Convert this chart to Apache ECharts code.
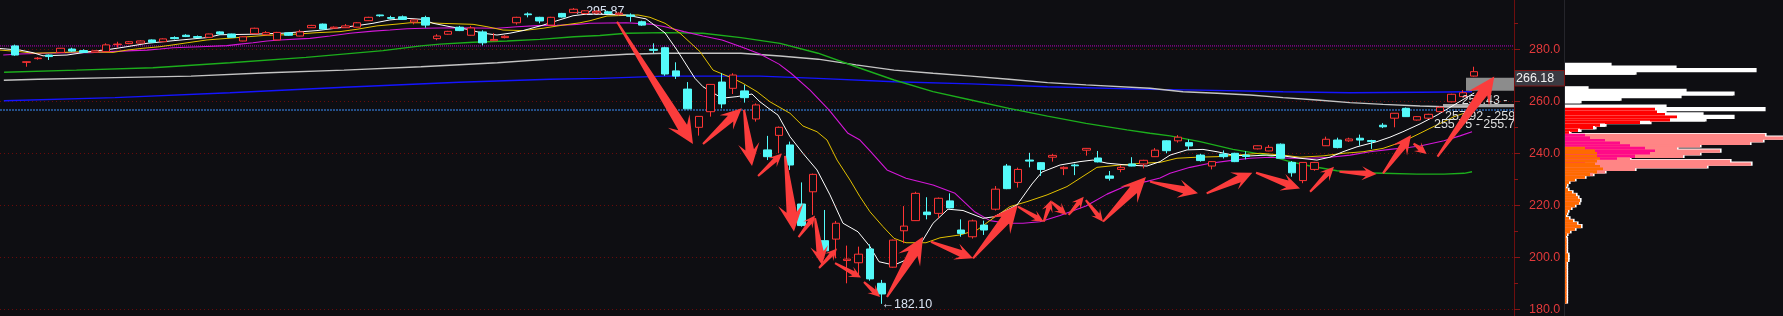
<!DOCTYPE html>
<html><head><meta charset="utf-8">
<script src="https://cdn.jsdelivr.net/npm/echarts/dist/echarts.min.js"></script>
<style>html,body{margin:0;padding:0;background:#0e0e12;}#c{width:1783px;height:316px;}</style>
</head><body><div id="c"></div><script>
// ---------- DATA ----------
const opens = [281.3,275.0,276.4,277.8,278.8,280.1,279.5,278.9,279.1,281.8,
282.2,282.4,283.6,282.9,284.5,285.4,284.9,284.6,286.7,285.9,
283.2,286.0,285.6,283.6,286.3,285.1,288.3,289.7,288.1,288.3,
288.5,291.0,293.2,292.2,292.5,290.5,292.2,284.1,285.8,288.5,
285.4,286.7,283.3,284.5,290.2,293.6,292.3,289.3,293.8,294.1,
293.8,294.0,294.4,293.5,293.2,290.6,280.0,280.6,271.7,264.7,
250.0,256.0,267.4,265.0,264.0,253.2,241.3,246.9,243.2,220.5,
225.2,206.4,207.0,198.8,197.9,203.2,190.0,196.2,210.2,214.1,
217.4,216.9,221.7,210.5,207.9,212.4,218.5,235.1,228.8,237.4,
236.4,238.5,234.1,235.5,241.2,238.2,231.3,233.8,235.9,235.9,
238.7,244.8,244.8,244.1,239.3,235.1,239.7,240.0,239.3,241.7,
240.9,243.5,236.5,229.5,233.8,242.9,245.1,244.8,245.8,244.9,
250.8,253.5,257.3,252.8,253.5,256.0,259.8,261.8,269.7];
const closes = [277.8,275.2,276.6,277.2,280.4,279.3,278.8,279.4,281.7,282.0,
282.9,283.2,282.7,284.0,284.1,284.9,284.5,285.9,285.9,284.6,
284.8,288.1,286.4,286.5,285.4,286.7,289.2,287.8,288.5,289.0,
290.2,292.3,292.9,291.9,291.5,291.3,289.3,285.1,286.9,287.2,
288.2,282.5,283.8,285.0,292.3,293.3,290.9,292.3,292.4,295.4,
294.8,294.6,293.8,293.9,292.7,289.3,279.6,270.5,269.7,257.1,
254.2,266.5,259.0,270.1,261.4,258.6,238.7,250.0,235.5,212.2,
231.9,202.5,213.1,199.3,201.2,191.7,185.9,206.6,212.0,224.6,
216.4,222.7,219.0,209.2,214.0,210.5,226.2,226.4,233.8,237.0,
233.8,239.2,234.6,235.2,241.9,236.7,230.4,234.6,235.1,237.3,
241.2,241.0,246.2,242.8,237.2,236.8,238.7,236.8,238.8,242.9,
242.3,238.1,232.5,236.5,236.5,245.4,242.2,245.5,245.1,244.5,
250.2,255.4,254.1,254.1,255.0,257.7,262.7,263.3,271.4];
const lows = [277.5,273.3,276.0,275.9,278.6,279.0,278.6,278.7,279.0,280.6,
282.0,282.3,282.6,282.8,283.8,284.7,284.3,284.5,285.5,284.5,
283.1,285.9,285.4,283.5,285.2,285.0,288.2,287.6,287.8,288.2,
288.4,290.9,292.5,291.5,291.3,289.6,288.3,283.5,285.6,287.0,
285.3,281.5,283.2,284.2,289.5,292.3,290.0,289.2,292.2,294.0,
293.6,293.6,293.5,293.0,290.6,289.0,278.5,269.8,268.6,257.0,
246.8,254.1,257.3,262.8,259.5,252.2,237.4,240.0,233.6,211.8,
216.3,202.0,199.6,190.0,192.5,191.0,182.1,196.0,205.4,214.0,
214.6,215.0,218.8,207.9,207.2,208.6,218.0,226.2,226.8,234.6,
231.3,236.8,231.6,231.6,239.1,236.5,229.5,232.7,235.0,234.2,
238.6,240.0,244.1,241.3,236.8,233.8,238.0,236.6,237.7,241.5,
240.8,238.0,231.0,228.5,233.3,242.8,241.9,244.4,242.9,241.7,
249.7,250.0,254.0,252.6,253.3,255.8,259.6,261.6,269.5];
const highs = [281.8,275.3,277.0,278.0,280.5,280.6,280.0,279.6,282.3,282.9,
283.2,283.4,283.8,284.2,285.0,285.8,285.3,286.0,286.9,286.0,
285.0,288.3,287.0,286.7,286.6,287.5,289.4,289.9,288.8,289.7,
290.4,292.5,293.3,292.9,293.0,291.5,292.9,285.8,287.1,289.0,
289.0,287.3,286.2,285.4,292.5,294.2,292.5,292.5,294.0,295.87,
295.0,295.0,294.8,294.2,293.8,291.0,282.3,281.0,275.0,267.4,
254.3,266.6,270.8,270.8,266.3,259.2,246.7,250.3,244.5,228.8,
232.2,218.2,214.0,204.5,204.1,205.0,191.3,206.8,219.7,225.2,
223.1,223.0,224.6,214.6,214.5,214.1,227.4,235.9,234.5,240.2,
236.6,239.7,235.0,236.0,242.0,240.9,233.2,235.4,238.5,237.5,
242.0,245.0,247.0,245.3,239.8,237.0,241.1,240.2,240.8,243.0,
243.2,243.8,237.0,236.6,236.7,246.4,246.0,246.0,247.2,245.2,
251.6,255.5,257.6,254.3,255.2,258.0,262.9,264.3,273.3];

// moving-average lines: [bar position, price]
const ma5 = [[-1.32,280.3],[0.44,279.7],[1.58,278.7],[2.46,277.5],[4.56,277.8],[6.58,279.1],[8.33,280.0],[9.82,281.0],[11.58,282.3],[13.86,283.3],[16.84,284.5],[17.98,285.6],[20.88,285.8],[23.51,286.2],[26.49,287.2],[28.51,288.3],[30.0,289.1],[31.4,290.0],[32.89,291.3],[34.39,291.9],[35.79,291.5],[36.67,290.0],[38.16,288.7],[39.65,287.7],[41.05,286.2],[42.28,285.5],[43.42,286.2],[44.56,287.2],[46.32,289.3],[47.54,291.0],[48.95,292.9],[50.26,293.6],[53.6,293.2],[55.35,291.7],[57.02,286.3],[58.07,279.7],[59.65,268.8],[60.35,265.6],[62.02,261.2],[63.33,261.8],[64.65,262.8],[65.35,259.8],[66.23,256.9],[66.93,254.7],[67.98,246.4],[69.12,240.0],[70.35,233.6],[71.49,224.0],[72.63,213.1],[73.95,209.8],[75.0,204.1],[75.79,198.3],[77.11,197.0],[78.16,199.0],[79.47,205.4],[80.53,213.1],[81.84,218.5],[83.16,218.0],[84.91,215.0],[85.88,215.6],[87.89,220.1],[89.21,228.2],[90.09,232.8],[91.67,235.5],[93.42,236.8],[94.56,237.4],[95.79,236.2],[97.54,235.5],[99.3,235.1],[100.44,236.8],[101.32,239.3],[102.81,241.3],[104.21,241.5],[105.44,240.6],[106.84,239.3],[108.33,239.0],[109.82,239.3],[111.23,239.0],[112.72,238.1],[114.21,237.4],[115.35,238.5],[116.49,240.6],[117.72,242.5],[119.47,244.5],[120.61,246.2],[121.75,248.3],[123.25,251.3],[124.74,254.7],[126.23,258.6],[127.54,262.0],[128.0,263.2]];
const ma10 = [[-1.32,279.7],[0.44,279.1],[1.58,278.5],[3.68,278.7],[5.96,279.1],[8.6,278.8],[9.82,279.7],[11.23,280.4],[12.72,281.0],[13.86,281.7],[15.09,282.5],[16.84,283.6],[18.6,284.2],[20.35,284.8],[22.11,285.4],[23.86,285.6],[26.49,286.4],[28.51,286.8],[30.0,287.7],[31.75,289.0],[33.51,289.7],[34.65,290.2],[36.4,290.2],[37.28,290.0],[40.18,289.6],[41.4,288.7],[42.81,287.4],[44.56,287.2],[46.32,288.1],[48.07,289.3],[49.56,290.2],[50.44,291.0],[51.93,292.8],[54.65,293.2],[55.7,292.3],[57.02,290.0],[58.33,286.2],[60.09,279.1],[61.23,272.0],[62.98,268.8],[63.86,266.9],[65.09,263.7],[66.23,259.8],[67.98,255.4],[69.12,250.5],[70.35,248.3],[71.23,245.1],[72.11,237.4],[73.25,229.7],[74.12,223.3],[75.0,217.5],[76.14,211.8],[77.11,207.3],[78.16,205.6],[79.91,205.6],[81.14,207.5],[82.89,208.6],[84.39,210.5],[85.79,215.0],[87.28,219.5],[88.77,221.4],[90.53,224.0],[92.28,227.2],[93.42,230.4],[94.91,234.6],[96.93,235.5],[98.95,236.2],[100.44,236.5],[101.93,238.1],[103.68,238.5],[105.44,238.7],[107.19,239.3],[109.21,240.0],[111.23,239.3],[112.72,238.5],[114.74,239.0],[116.49,240.0],[118.25,240.6],[120.0,241.9],[121.75,244.5],[123.25,247.7],[124.12,249.6],[125.35,252.2],[126.23,254.1],[128.0,256.7]];
const ma20 = [[-1.03,277.8],[0.44,278.2],[2.46,278.5],[4.56,278.7],[6.58,278.7],[8.33,279.1],[10.35,279.5],[11.58,279.7],[12.72,280.1],[13.86,280.6],[16.23,281.0],[18.6,281.4],[19.74,282.0],[20.88,282.5],[22.11,283.2],[23.25,283.6],[25.0,284.0],[25.88,284.2],[27.63,285.1],[29.39,286.2],[31.4,287.0],[32.89,287.4],[34.39,287.9],[35.79,288.1],[38.77,288.3],[40.53,288.2],[42.28,288.1],[44.04,288.7],[45.79,289.1],[47.54,289.2],[49.3,289.6],[50.44,290.0],[53.6,290.2],[55.7,289.7],[57.02,288.7],[58.68,286.8],[60.35,285.1],[62.02,283.6],[63.68,281.0],[65.35,278.2],[67.02,274.3],[68.07,270.8],[69.74,264.3],[71.4,256.7],[73.07,247.7],[74.12,245.1],[75.0,240.9],[76.49,233.6],[78.16,230.4],[80.53,227.8],[82.46,224.6],[84.21,217.4],[85.53,214.1],[87.02,213.1],[88.42,213.1],[89.91,213.7],[91.67,216.1],[93.95,219.7],[95.79,224.3],[97.54,227.6],[99.3,229.2],[100.44,230.5],[101.32,232.3],[103.07,234.6],[104.82,236.2],[106.58,237.2],[108.33,238.1],[110.09,238.5],[111.84,238.1],[113.6,238.1],[115.35,238.5],[117.11,239.3],[118.86,240.6],[120.61,241.5],[122.37,242.3],[123.25,242.8],[125.35,244.8],[126.75,246.7],[127.81,248.3]];
const ma60 = [[-0.96,271.2],[5.39,272.0],[12.1,272.9],[18.86,274.8],[25.53,276.9],[32.28,279.5],[35.61,281.3],[37.28,282.0],[40.18,282.7],[43.16,283.2],[46.05,283.8],[49.04,284.8],[51.3,285.3],[53.64,286.2],[57.02,286.4],[60.35,286.2],[63.68,284.5],[67.11,282.3],[70.44,278.5],[73.77,273.3],[77.11,268.2],[80.53,263.7],[83.86,260.5],[87.19,257.3],[90.57,254.3],[93.95,251.5],[97.54,249.0],[99.56,247.7],[101.32,246.7],[103.95,244.5],[106.84,241.5],[109.82,239.3],[111.84,236.8],[113.6,235.1],[115.96,233.3],[118.25,232.5],[120.0,232.3],[122.98,232.0],[125.35,232.0],[127.11,232.3],[127.81,232.9]];
const ma120 = [[-0.98,268.1],[2.02,268.5],[8.77,269.1],[15.44,269.7],[22.19,271.0],[28.86,272.0],[35.61,273.3],[42.32,274.8],[49.04,276.9],[53.64,278.1],[57.02,278.5],[63.68,278.5],[67.11,277.4],[70.44,276.2],[73.77,274.0],[77.11,272.0],[80.53,270.8],[83.86,269.7],[87.19,268.5],[90.57,267.2],[93.95,266.3],[99.56,265.0],[102.46,263.7],[105.44,263.1],[108.33,262.4],[111.23,261.4],[114.21,260.5],[117.11,259.5],[120.0,258.8],[123.25,258.2],[125.35,257.9],[127.81,257.8]];
const ma250 = [[-0.98,260.2],[8.77,261.4],[18.86,263.3],[28.86,265.4],[38.95,267.3],[46.93,268.5],[51.32,268.8],[57.02,269.7],[65.35,269.7],[70.44,268.8],[77.11,267.5],[83.86,266.7],[90.57,265.6],[99.56,264.6],[103.95,264.3],[111.23,263.7],[117.11,263.3],[123.25,263.5],[127.81,263.7]];

const levelPurple = 281.3;
const levelBlue = 256.65;
const yTicks = [180, 200, 220, 240, 260, 280];
const highLabel = '295.87', lowLabel = '182.10', priceTag = '266.18';
const maLabelTexts = ['254.43 -', '257.92 - 259', '255.75 - 255.7'];
const maLabelPos = [[126.9, 260.1], [125.44, 254.1], [124.47, 251.1]];

// annotation arrows [fromBar, fromPrice, toBar, toPrice]
const arrows = [[52.81,290.6,59.47,243.6],[60.35,243.6,63.75,257.3],[63.95,256.7,64.65,235.1],[65.18,231.3,67.28,239.9],[67.54,239.0,68.33,209.9],[68.73,207.8,70.18,216.1],[70.18,215.1,70.79,197.0],[70.53,195.9,72.11,203.4],[71.93,197.8,74.21,192.2],[74.47,190.5,75.88,184.7],[76.49,184.7,79.65,207.9],[80.35,206.0,84.04,199.6],[84.04,199.6,87.96,220.1],[87.98,219.5,90.24,213.7],[90.24,213.7,90.9,222.0],[90.9,221.4,92.25,216.3],[92.42,216.3,93.75,223.3],[93.93,222.0,95.44,213.7],[95.44,213.7,99.21,230.9],[99.56,229.1,103.77,224.6],[104.53,224.6,108.54,232.5],[108.86,232.5,112.72,226.5],[113.6,225.2,115.7,234.8],[116.18,232.9,119.44,232.0],[120.0,232.3,122.46,247.0],[122.68,243.8,123.83,239.7],[124.78,238.7,129.76,269.5]];

// chip distribution (price row, outer length, middle length, inner length)
const profilePrice = [274,273,272,271,265,264,263,262,261,260,258,257,256,255,254,253,252,251,250,249,248,247,246,245,244,243,242,241,240,239,238,237,236,235,234,233,232,231,230,229,228,227,226,225,224,223,222,221,220,219,218,217,216,215,214,213,212,211,210,209,208,207,206,205,204,203,202,201,200,199,198,197,196,195,194,193,192,191,190,189,188,187,186,185,184,183];
const profileOuter = [45,110,190,70,22,120,168,115,55,15,100,199,100,137,168,140,85,40,30,15,5,200,218,198,185,135,112,155,135,118,65,165,186,142,70,40,28,20,10,4,2,1,3,7,11,13,15,14,10,6,3,2,1,4,8,12,16,10,5,2,1,1.5,1.5,1.5,1.5,1.5,1.5,3,3,3,1.5,1.5,1.5,1.5,1.5,1.5,1.5,1.5,1.5,1.5,1.5,1.5,1.5,1.5,1.5,1.5];
const profileMid = [0,0,0,0,0,0,0,0,0,0,0,90,92,100,112,105,75,35,28,13,4,20,25,40,55,65,80,90,85,70,52,30,20,0,0,0,0,0,0,0,0,0,0,0,0,0,0,0,0,0,0,0,0,0,0,0,0,0,0,0,0,0,0,0,0,0,0,0,0,0,0,0,0,0,0,0,0,0,0,0,0,0,0,0,0,0];
const profileInner = [0,0,0,0,0,0,0,0,0,0,0,0,0,0,0,0,0,0,0,0,0,0,0,0,0,0,20,30,32,32,35,32,30,35,38,32,25,20,10,4,2,1,3,7,11,13,15,14,10,6,3,2,1,4,8,12,16,10,5,2,1,1.5,1.5,1.5,1.5,1.5,1.5,3,3,3,1.5,1.5,1.5,1.5,1.5,1.5,1.5,1.5,1.5,1.5,1.5,1.5,1.5,1.5,1.5,1.5];

// ---------- CHART ----------
const BG = '#0e0e12';
const categories = [];
for (let i = 0; i < 132; i++) categories.push(String(i));
const candleData = opens.map((o, i) => [o, closes[i], lows[i], highs[i]]);
const GT = -2.7, GH = 364, YMIN = 160, YMAX = 300;

function maSeries(name, data, color, width) {
  return {name, type: 'line', xAxisIndex: 0, yAxisIndex: 0, data, showSymbol: false, silent: true,
    lineStyle: {color, width}, z: 3, animation: false};
}
function zoneColors(p) {
  if (p >= 259.5) return ['#ffffff', '#ffffff', '#ffffff'];
  if (p >= 247.5) return ['#ffffff', '#ff0000', '#ff0000'];
  return ['#ff8585', '#ff0a88', '#ff6a00'];
}
const chart = echarts.init(document.getElementById('c'), null, {renderer: 'canvas'});
const gridBase = {containLabel: false, outerBoundsMode: 'none', top: GT, height: GH};
const option = {
  backgroundColor: BG,
  animation: false,
  grid: [
    Object.assign({left: 0, width: 1514}, gridBase),
    Object.assign({left: 9.3, width: 1504.8}, gridBase),
    Object.assign({left: 1565, width: 218}, gridBase)
  ],
  xAxis: [
    {type: 'value', gridIndex: 0, min: -1.3158, max: 131.4912, show: false},
    {type: 'category', gridIndex: 1, data: categories, show: false, boundaryGap: true},
    {type: 'value', gridIndex: 2, min: 0, max: 218, show: false}
  ],
  yAxis: [
    {type: 'value', gridIndex: 0, position: 'right', min: YMIN, max: YMAX, interval: 20,
      axisLine: {show: true, onZero: false, lineStyle: {color: '#6e0e0e', width: 1}},
      axisTick: {show: true, length: 6, lineStyle: {color: '#8a1414'}},
      minorTick: {show: true, splitNumber: 2, length: 4, lineStyle: {color: '#8a1414'}},
      axisLabel: {margin: 15, color: '#e2393b', fontSize: 12.5, fontFamily: 'Liberation Sans',
        formatter: v => yTicks.indexOf(v) >= 0 ? v.toFixed(1) : ''},
      splitLine: {show: true, lineStyle: {color: '#6a0a0a', type: [1, 3], width: 1}}
    },
    {type: 'value', gridIndex: 1, min: YMIN, max: YMAX, show: false, axisLine: {onZero: false}},
    {type: 'value', gridIndex: 2, min: YMIN, max: YMAX, show: false, axisLine: {onZero: false}}
  ],
  graphic: [
    {type: 'line', shape: {x1: 1564.5, y1: 0, x2: 1564.5, y2: 316}, style: {stroke: '#25252b', lineWidth: 1}, z: 1},
    {type: 'rect', shape: {x: 1514.5, y: 70.5, width: 50, height: 15.5}, style: {fill: '#3a3a42', stroke: '#7c1515', lineWidth: 1}, z: 20},
    {type: 'text', x: 1516, y: 78.5, style: {text: priceTag, fill: '#f2f2f2', font: '12.5px "Liberation Sans"', verticalAlign: 'middle'}, z: 21}
  ],
  series: [
    {type: 'line', xAxisIndex: 0, yAxisIndex: 0, silent: true, showSymbol: false, z: 2,
      data: [[-1.3158, levelPurple], [131.4912, levelPurple]],
      lineStyle: {color: '#b800c0', width: 1, type: [1, 1]},
      markArea: {silent: true, itemStyle: {color: '#8c8c8c'},
        data: [[{xAxis: 127.28, yAxis: 269.1}, {xAxis: 131.49, yAxis: 264.1}],
               [{xAxis: 125.26, yAxis: 259.0, itemStyle: {color: '#a8a8a8'}}, {xAxis: 131.49, yAxis: 257.7}]]}
    },
    {type: 'line', xAxisIndex: 0, yAxisIndex: 0, silent: true, showSymbol: false, z: 2,
      data: [[-1.3158, levelBlue], [131.4912, levelBlue]],
      lineStyle: {color: '#3a90ff', width: 1, type: [2, 1]}},
    maSeries('MA250', ma250, '#1414ff', 1.4),
    maSeries('MA120', ma120, '#c4c4c4', 1.4),
    maSeries('MA60', ma60, '#1cae1c', 1.4),
    maSeries('MA20', ma20, '#d417d8', 1.1),
    maSeries('MA10', ma10, '#e2c000', 1),
    maSeries('MA5', ma5, '#ffffff', 1),
    {type: 'candlestick', xAxisIndex: 1, yAxisIndex: 1, data: candleData, barWidth: 8, z: 5, silent: true,
      itemStyle: {color: BG, color0: '#54fafa', borderColor: '#ff3434', borderColor0: '#54fafa', borderWidth: 1},
      markPoint: {silent: true, symbol: 'circle', symbolSize: 0.1,
        itemStyle: {color: 'rgba(0,0,0,0)'},
        label: {show: true, position: 'right', distance: 0, color: '#dbe3f2', fontSize: 12.5, fontFamily: 'Liberation Sans'},
        data: [
          {coord: [49, 295.87], label: {formatter: '\u2190' + highLabel, offset: [0, 4]}},
          {coord: [76, 182.1], label: {formatter: '\u2190' + lowLabel, offset: [0, 1]}}
        ]}
    },
    {type: 'custom', xAxisIndex: 0, yAxisIndex: 0, clip: true, silent: true, z: 6,
      data: maLabelPos,
      renderItem: (params, api) => {
        const pt = api.coord([api.value(0), api.value(1)]);
        return {type: 'text', x: pt[0], y: pt[1], style: {text: maLabelTexts[params.dataIndex], fill: '#dedede',
          font: '12.5px "Liberation Sans"', verticalAlign: 'middle', align: 'left'}};
      }
    },
    {type: 'custom', xAxisIndex: 0, yAxisIndex: 0, clip: false, silent: true, z: 8,
      data: arrows, encode: {x: [0, 2], y: [1, 3]},
      renderItem: (params, api) => {
        const a = api.coord([api.value(0), api.value(1)]);
        const b = api.coord([api.value(2), api.value(3)]);
        const dx = b[0] - a[0], dy = b[1] - a[1];
        const len = Math.hypot(dx, dy) || 1;
        const ux = dx / len, uy = dy / len, nx = -uy, ny = ux;
        const hl = Math.max(12, Math.min(27, len * 0.4));
        const hw = hl * 0.47, sw = hl * 0.19, tw = 1.0;
        const P = (t, w) => [a[0] + ux * t + nx * w, a[1] + uy * t + ny * w];
        const neck = len - hl * 0.72, base = len - hl;
        return {type: 'polygon', shape: {points: [P(0, tw), P(neck, sw), P(base, hw), P(len, 0), P(base, -hw), P(neck, -sw), P(0, -tw)]},
          style: {fill: '#fb3c3c'}};
      }
    },
    {type: 'custom', xAxisIndex: 2, yAxisIndex: 2, clip: true, silent: true, z: 4,
      data: profilePrice.map((p, k) => [p, profileOuter[k]]), encode: {y: 0, x: 1},
      renderItem: (params, api) => {
        const p = api.value(0), o = api.value(1);
        const t = api.coord([0, p + 0.5]), b = api.coord([o, p - 0.5]);
        return {type: 'rect', shape: {x: t[0], y: t[1] - 0.8, width: b[0] - t[0] + 1.6, height: b[1] - t[1] + 1.6}, style: {fill: '#ffffff'}};
      }
    },
    {type: 'custom', xAxisIndex: 2, yAxisIndex: 2, clip: true, silent: true, z: 5,
      data: profilePrice.map((p, k) => [p, profileOuter[k], profileMid[k], profileInner[k]]), encode: {y: 0, x: 1},
      renderItem: (params, api) => {
        const p = api.value(0);
        const cols = zoneColors(p);
        const kids = [];
        [1, 2, 3].forEach((d, j) => {
          const len = api.value(d);
          if (len <= 0) return;
          const t = api.coord([0, p + 0.5]), b = api.coord([len, p - 0.5]);
          kids.push({type: 'rect', shape: {x: t[0], y: t[1], width: b[0] - t[0], height: b[1] - t[1] + 0.7}, style: {fill: cols[j]}});
        });
        return {type: 'group', children: kids};
      }
    }
  ]
};
chart.setOption(option);
</script></body></html>
